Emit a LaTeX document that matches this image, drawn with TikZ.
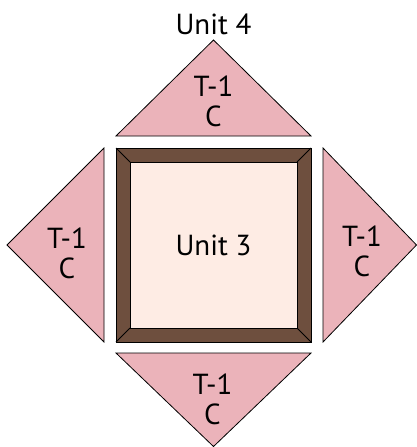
\documentclass[tikz,border=0pt]{standalone}
\usepackage{fontspec}
\setmainfont{PT Sans}
\usepackage{tikz}
\usetikzlibrary{positioning}
\definecolor{patchpink}{RGB}{235,179,186}
\definecolor{framebrown}{RGB}{110,79,62}
\definecolor{centrecream}{RGB}{254,236,228}
\tikzstyle{patch}=[draw=black,fill=patchpink,line width=0.8pt,line join=miter]
\tikzstyle{frame}=[draw=black,fill=framebrown,line width=0.8pt]
\tikzstyle{centre}=[draw=black,fill=centrecream,line width=0.8pt]
\tikzstyle{lbl}=[font=\fontsize{29}{30}\selectfont,inner sep=0pt,align=center]

\begin{document}
\begin{tikzpicture}[x=1pt,y=-1pt]
  \useasboundingbox (0,0) rectangle (417,447);

  % centre block with mitred border
  \filldraw[frame] (116,148) rectangle (311,342);
  \filldraw[centre] (130,162) rectangle (297,328);
  \draw[line width=0.8pt] (116,148) -- (130,162) (311,148) -- (297,162)
    (116,342) -- (130,328) (311,342) -- (297,328);

  % setting triangles
  \filldraw[patch] (116,136) -- (311,136) -- (213.5,40) -- cycle;
  \filldraw[patch] (116,353) -- (311,353) -- (213.5,446.5) -- cycle;
  \filldraw[patch] (104,148) -- (104,342) -- (7,245) -- cycle;
  \filldraw[patch] (323,148) -- (323,342) -- (416.5,245) -- cycle;

  \node[lbl] (unit4) at (213.5,24) {Unit 4};
  \node[lbl] (unit3) at (213.5,245.5) {Unit 3};
  \node[lbl] (top) at (213.5,101) {T-1\\C};
  \node[lbl] (bottom) at (212.5,399.5) {T-1\\C};
  \node[lbl] (left) at (67,253) {T-1\\C};
  \node[lbl] (right) at (362,251.5) {T-1\\C};
\end{tikzpicture}
\end{document}
